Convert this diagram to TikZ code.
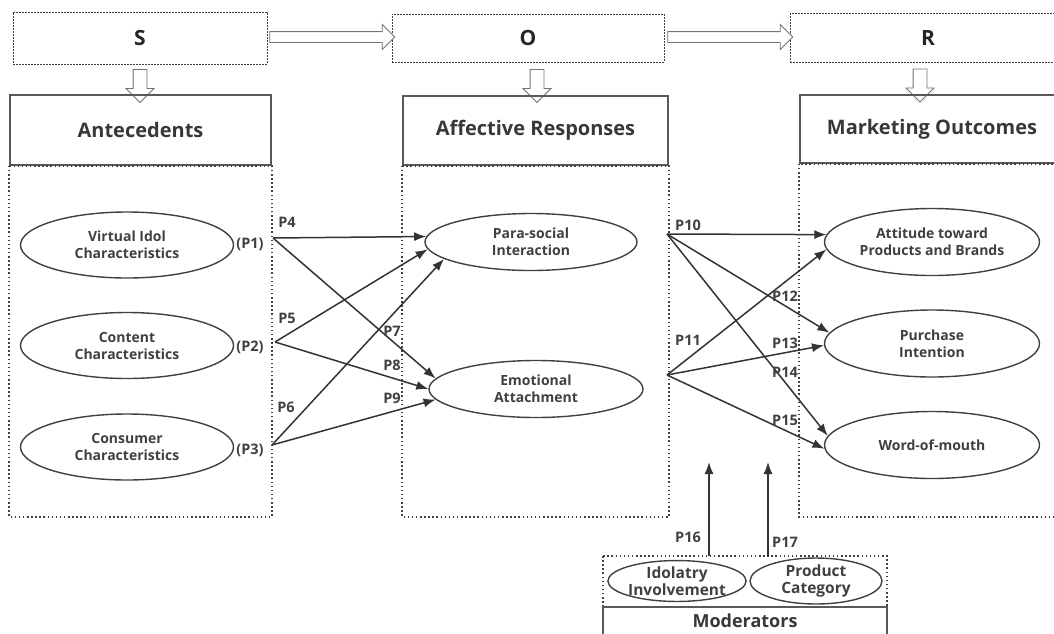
\documentclass[tikz,border=0pt]{standalone}
\usepackage{fontspec}
\setmainfont{Open Sans}
\usetikzlibrary{shapes.geometric,shapes.arrows,arrows.meta}

\begin{document}
\begin{tikzpicture}[x=1pt,y=-1pt,
    topbox/.style={draw=black!75,dash pattern=on 2pt off 1pt,line width=0.9pt,inner sep=0pt,font=\fontsize{21}{24}\selectfont\bfseries,text=black!85},
    headbox/.style={draw=black!65,line width=1.7pt,inner sep=0pt,font=\fontsize{20}{23}\selectfont\bfseries,text=black!78},
    dotbox/.style={draw=black!75,line width=1.5pt,dash pattern=on 1.5pt off 2.6pt},
    factor/.style={ellipse,draw=black!75,line width=1.4pt,align=center,inner sep=0pt,font=\fontsize{14}{17}\selectfont\bfseries,text=black!75},
    modfactor/.style={factor,font=\fontsize{15.5}{17}\selectfont\bfseries},
    plabel/.style={inner sep=0pt,font=\fontsize{14.5}{16}\selectfont\bfseries,text=black!75},
    link/.style={draw=black!80,line width=1.5pt,-{Latex[length=12pt,width=9pt]}},
    hollowh/.style={single arrow,draw=black!55,fill=white,line width=0.8pt,inner xsep=0pt,inner ysep=5pt,single arrow head extend=7pt,single arrow head indent=0pt,minimum height=125pt},
    hollowv/.style={single arrow,draw=black!55,fill=white,line width=0.8pt,inner xsep=6.5pt,inner ysep=0pt,single arrow head extend=7pt,single arrow head indent=0pt,minimum height=33pt,shape border rotate=270}]
            \useasboundingbox (0,0) rectangle (1054,633);
            \clip (0,0) rectangle (1054,633);

            \node[topbox,minimum width=254pt,minimum height=52pt] (S) at (140,38) {S};
            \node[topbox,minimum width=272pt,minimum height=48pt] (O) at (528,38) {O};
            \node[topbox,minimum width=276pt,minimum height=49pt] (R) at (928,38) {R};

            \node[hollowh] (so) at (329.5,37) {};
            \node[hollowh] (or) at (727.5,37) {};
            \node[hollowv] (sdown) at (140,82.5) {};
            \node[hollowv] (odown) at (537,82.5) {};
            \node[hollowv] (rdown) at (920,82) {};

            \node[headbox,minimum width=261pt,minimum height=70pt] (ante) at (140.5,130) {Antecedents};
            \node[headbox,minimum width=265pt,minimum height=69pt] (aff) at (535.5,130.5) {Affective Responses};
            \node[headbox,minimum width=264pt,minimum height=68pt] (mkt) at (932,129) {Marketing Outcomes};

            \draw[dotbox] (ante.south west) rectangle (ante.south east |- 0,517);
            \draw[dotbox] (aff.south west) rectangle (aff.south east |- 0,517);
            \draw[dotbox] (mkt.south west) rectangle (mkt.south east |- 0,517);

            \node[factor,minimum width=213pt,minimum height=66pt] (vi) at (127,245) {Virtual Idol\\Characteristics};
            \node[factor,minimum width=213pt,minimum height=66pt] (cc) at (127,345.5) {Content\\Characteristics};
            \node[factor,minimum width=213pt,minimum height=66pt] (cs) at (127,447) {Consumer\\Characteristics};

            \node[factor,minimum width=212pt,minimum height=57pt] (para) at (531,242) {Para-social\\Interaction};
            \node[factor,minimum width=214pt,minimum height=57pt] (emo) at (536,389) {Emotional\\Attachment};

            \node[factor,minimum width=215pt,minimum height=67pt] (att) at (932,242) {Attitude toward\\Products and Brands};
            \node[factor,minimum width=215pt,minimum height=67pt] (pur) at (932,343.5) {Purchase\\Intention};
            \node[factor,minimum width=215pt,minimum height=67pt] (wom) at (932,445) {Word-of-mouth};

            \node[plabel] (lp1) at (250,244) {(P1)};
            \node[plabel] (lp2) at (250,347) {(P2)};
            \node[plabel] (lp3) at (250,450) {(P3)};

            \coordinate (p1) at (273,238);
            \coordinate (p2) at (275,342);
            \coordinate (p3) at (272,445);
            \coordinate (p10) at (667,234);
            \coordinate (p11) at (667,375);

            \draw[link] (p1) -- (para.177);
            \draw[link] (p2) -- (para.184);
            \draw[link] (p3) -- (para.191);
            \draw[link] (p1) -- (emo.174);
            \draw[link] (p2) -- (emo.180);
            \draw[link] (p3) -- (emo.186);

            \draw[link] (p10) -- (att.176);
            \draw[link] (p11) -- (att.184);
            \draw[link] (p10) -- (pur.174);
            \draw[link] (p11) -- (pur.181);
            \draw[link] (p10) -- (wom.175);
            \draw[link] (p11) -- (wom.182);

            \node[plabel] (l4) at (287,222) {P4};
            \node[plabel] (l5) at (287,318) {P5};
            \node[plabel] (l6) at (286,407) {P6};
            \node[plabel] (l7) at (392,331) {P7};
            \node[plabel] (l8) at (392,365) {P8};
            \node[plabel] (l9) at (392,398) {P9};
            \node[plabel] (l10) at (688,225) {P10};
            \node[plabel] (l11) at (688,340) {P11};
            \node[plabel] (l12) at (785,296) {P12};
            \node[plabel] (l13) at (785,343) {P13};
            \node[plabel] (l14) at (785,372) {P14};
            \node[plabel] (l15) at (785,420) {P15};

            \draw[dotbox] (603,556) rectangle (887,607);
            \node[headbox,minimum width=284pt,minimum height=28pt,font=\fontsize{18}{20}\selectfont\bfseries] (mod) at (745,621) {Moderators};
            \node[modfactor,minimum width=130pt,minimum height=38pt] (idol) at (677,581) {Idolatry\\Involvement};
            \node[modfactor,minimum width=132pt,minimum height=38pt] (prod) at (816,581) {Product\\Category};

            \coordinate (m16) at (709,556);
            \coordinate (m17) at (768,556);
            \coordinate (t16) at (709,462);
            \coordinate (t17) at (768,462);
            \draw[link] (m16) -- (t16);
            \draw[link] (m17) -- (t17);
            \node[plabel] (l16) at (688,537) {P16};
            \node[plabel] (l17) at (785,542) {P17};
        \end{tikzpicture}
\end{document}
